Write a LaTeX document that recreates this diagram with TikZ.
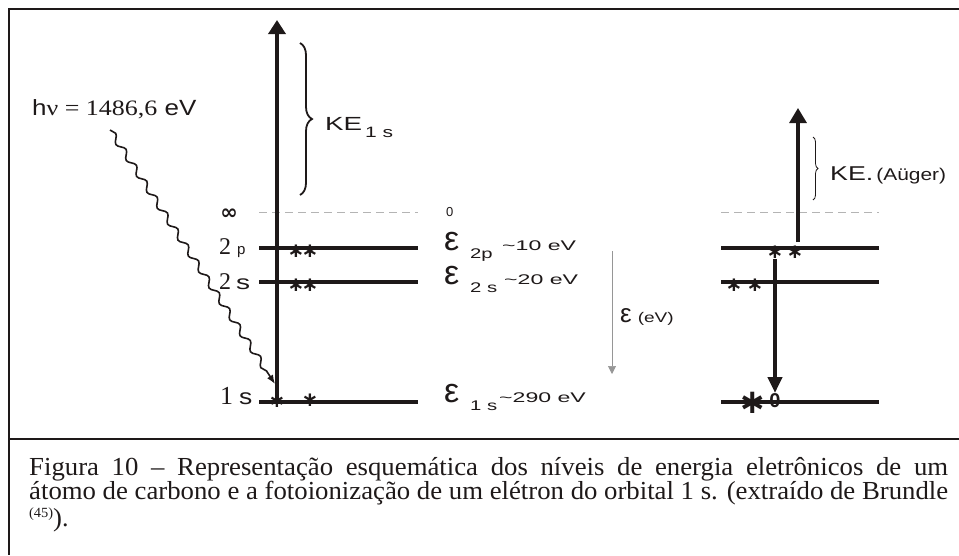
\documentclass[tikz,border=0pt]{standalone}
\usepackage{graphicx}
\usepackage{fontspec}
\setmainfont{Liberation Serif}
\setsansfont{Liberation Sans}
\newfontfamily\symfont{DejaVu Sans}
\usetikzlibrary{
  arrows.meta,calc,positioning,
  decorations.pathmorphing,decorations.pathreplacing
}
\definecolor{DashGray}{RGB}{180,180,180}
\definecolor{AxisGray}{RGB}{150,150,150}
\definecolor{InkBlack}{RGB}{30,25,25}
\newcommand{\fsz}[1]{\fontsize{#1}{#1}\selectfont}
\newcommand{\hstretch}[2]{\scalebox{#1}[1]{#2}}

\begin{document}
\begin{tikzpicture}[x=1pt,y=-1pt,>=Latex,
    level/.style={line width=3.5pt,InkBlack},
    vacuum/.style={DashGray,line width=0.8pt,dash pattern=on 8pt off 5pt},
    lab/.style={inner sep=0pt,font=\sffamily,InkBlack},
    elec/.style={inner sep=0pt,font=\symfont\bfseries\fsz{20},InkBlack},
    capline/.style={inner sep=0pt,anchor=base west,font=\rmfamily\fsz{26},InkBlack}]
  \useasboundingbox (0,0) rectangle (959,555);
  % frame
  \draw[line width=2.2pt,InkBlack] (959,9) -- (9,9) -- (9,555);
  \draw[line width=1.6pt,InkBlack] (9,439) -- (959,439);
  % levels
  \foreach \y in {248,282,402} {
    \draw[level] (259,\y) -- (418,\y);
    \draw[level] (721,\y) -- (879,\y);
  }
  \draw[vacuum] (259,212) -- (418,212);
  \draw[vacuum] (721,212) -- (879,212);
  % left labels
  \node[lab] (inf) at (229,214) {\symfont\bfseries\fsz{21}∞};
  \node[lab,anchor=base west] (n2p) at (219,254)
    {{\rmfamily\fsz{24}2}\hspace{6pt}{\fsz{15}p}};
  \node[lab,anchor=base west] (n2s) at (219,289)
    {{\rmfamily\fsz{24}2}\hspace{5pt}\hstretch{1.4}{\fsz{20}s}};
  \node[lab,anchor=base west] (n1s) at (220,404)
    {{\rmfamily\fsz{26}1}\hspace{6pt}\hstretch{1.2}{\fsz{22}s}};
  % energies
  \node[lab,anchor=base west] (zero) at (446,216) {\fsz{13}0};
  \foreach \y/\sub/\val/\vx [count=\k] in {250/2p/10/502,284/2 s/20/504,402/1 s/290/499} {
    \node[lab,anchor=base west] (eps\k) at (444,\y) {\fsz{34}ε};
    \node[lab,anchor=base west] (sub\k) at (470,\y+8) {\hstretch{1.45}{\fsz{14}\sub}};
    \node[lab,anchor=base west] (val\k) at (\vx,\y)
      {\hstretch{1.65}{\fsz{14}\textasciitilde\val\ eV}};
  }
  % energy axis
  \coordinate (axtop) at (612,251);
  \coordinate (axbot) at (612,374);
  \draw[AxisGray,line width=0.7pt,-{Triangle[width=8pt,length=8pt]}] (axtop) -- (axbot);
  \node[lab,anchor=base west] (epsax) at (620,322)
    {\fsz{26}ε\hspace{6pt}\hstretch{1.36}{\fsz{14}(eV)}};
  % electrons
  \foreach \p [count=\i] in {(296,251),(310,251),(296,285),(310,285),(277,401),(310,400),
                             (775,252),(795,252),(734,285),(755,285)}
    \node[elec] (el\i) at \p {∗};
  \node[elec,font=\symfont\bfseries\fsz{34}] (hstar) at (753,403) {∗};
  \node[lab,font=\sffamily\bfseries\fsz{20}] (hole) at (775,401) {0};
  % photoemission
  \coordinate (base1s) at (277,401);
  \coordinate (top1s) at (277,20);
  \draw[line width=4.5pt,InkBlack,-{Triangle[width=17pt,length=14pt]}] (base1s) -- (top1s);
  \node[lab,anchor=base west] (hnu) at (32,115)
    {\hstretch{1.18}{\fsz{22}h{\rmfamily ν = 1486,6} eV}};
  \coordinate (phot) at (110,130);
  \coordinate (hit) at (275,384);
  \draw[line width=1.6pt,InkBlack,-{Latex[length=9pt,width=7pt]},decorate,
        decoration={snake,amplitude=3pt,segment length=19pt,post length=8pt}]
    (phot) -- (hit);
  \draw[line width=1.8pt,InkBlack,decorate,decoration={brace,amplitude=12pt}]
    (300,43) -- (300,195);
  \node[lab,anchor=base west] (ke1s) at (325,130)
    {\hstretch{1.46}{\fsz{19}KE}\hspace{3pt}\raisebox{-7pt}{\hstretch{1.4}{\fsz{15}1 s}}};
  % Auger
  \coordinate (from2p) at (775,259);
  \coordinate (to1s) at (775,393);
  \draw[line width=4.5pt,InkBlack,-{Triangle[width=14pt,length=16pt]}] (from2p) -- (to1s);
  \coordinate (aug0) at (798,242);
  \coordinate (aug1) at (798,108);
  \draw[line width=3.2pt,InkBlack,-{Triangle[width=17pt,length=15pt]}] (aug0) -- (aug1);
  \draw[line width=0.8pt,InkBlack,decorate,decoration={brace,amplitude=5pt}]
    (813,137) -- (813,200);
  \node[lab,anchor=base west] (keaug) at (830,180)
    {\hstretch{1.34}{\fsz{20}KE.}\hspace{3pt}\hstretch{1.23}{\fsz{17}(Aüger)}};
  % caption
  \node[capline] (cap1) at (29,475)
    {\hstretch{1.029}{\makebox[893pt][s]{Figura 10 – Representação esquemática dos níveis de energia eletrônicos de um}}};
  \node[capline] (cap2) at (29,499)
    {\hstretch{1.029}{\makebox[893pt][s]{átomo de carbono e a fotoionização de um elétron do orbital 1 s. (extraído de Brundle}}};
  \node[capline] (cap3) at (29,526)
    {\hstretch{1.029}{\raisebox{9pt}{\fsz{14}(45)})}.};
\end{tikzpicture}
\end{document}
